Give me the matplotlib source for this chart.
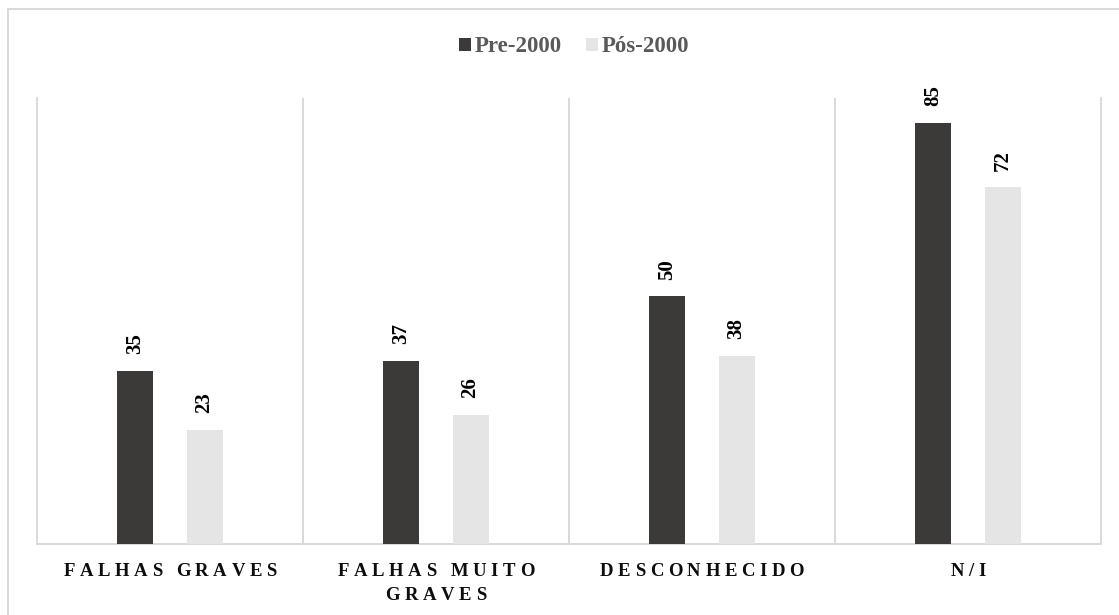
import matplotlib
matplotlib.use("Agg")
import matplotlib.pyplot as plt
from matplotlib.patches import Patch, Rectangle
from matplotlib.font_manager import FontProperties
import numpy as np

categories = [["FALHAS GRAVES"], ["FALHAS MUITO", "GRAVES"], ["DESCONHECIDO"], ["N/I"]]
series_names = ["Pre-2000", "Pós-2000"]
pre_2000 = [35, 37, 50, 85]
pos_2000 = [23, 26, 38, 72]

W, H = 1119, 615
fig = plt.figure(figsize=(W / 100, H / 100), dpi=100)
fig.patch.set_facecolor("white")

serif = ["Liberation Serif", "DejaVu Serif"]
dark = "#3b3a38"
light = "#e5e5e5"
grid = "#d9d9d9"

ax = fig.add_axes([37 / W, 1 - 544 / H, 1064 / W, 446 / H])
x = np.arange(len(pre_2000))
bw = 0.135
off = 0.13
b1 = ax.bar(x - off, pre_2000, bw, color=dark, zorder=3)
b2 = ax.bar(x + off, pos_2000, bw, color=light, zorder=3)

ax.set_xlim(-0.5, len(pre_2000) - 0.5)
ax.set_ylim(0, 90)
ax.set_xticks([])
ax.set_yticks([])
ax.spines["top"].set_visible(False)
for s in ["left", "right", "bottom"]:
    ax.spines[s].set_color(grid)
    ax.spines[s].set_linewidth(1.4)
ax.vlines(np.arange(0.5, len(pre_2000) - 0.5, 1.0), 0, 90, colors=grid, linewidth=1.4, zorder=1)

# value labels above each bar
for bars, vals in ((b1, pre_2000), (b2, pos_2000)):
    for rect, v in zip(bars, vals):
        ax.annotate(str(v), (rect.get_x() + rect.get_width() / 2, v),
                    xytext=(0, 12), textcoords="offset points",
                    rotation=90, ha="center", va="bottom",
                    fontsize=15, fontweight="bold", family=serif, color="black")

# legend
handles = [Patch(facecolor=dark, edgecolor="none"), Patch(facecolor=light, edgecolor="none")]
leg = fig.legend(handles, series_names, loc="center", bbox_to_anchor=(574 / W, 1 - 47 / H),
                 ncol=2, frameon=False, handlelength=0.52, handleheight=0.52,
                 handletextpad=0.15, columnspacing=1.05,
                 prop=FontProperties(family=serif, weight="bold", size=16.5))
for t in leg.get_texts():
    t.set_color("#595959")

# outer frame
fig.patches.append(Rectangle((7.5 / W, -0.1), 1.2, 1.1 - 9.5 / H, transform=fig.transFigure,
                             fill=False, edgecolor=grid, linewidth=1.4))

# letter-spaced category labels
fig.canvas.draw()
renderer = fig.canvas.get_renderer()
label_size = 13.5
fp = FontProperties(family=serif, weight="bold", size=label_size)
tracking = 4.6
space_w = 0.25 * label_size * 100 / 72


def ink_w(s):
    w, h, d = renderer.get_text_width_height_descent(s, fp, ismath=False)
    return w


line_baselines = [576, 600]
for i, lines in enumerate(categories):
    cx = ax.transData.transform((i, 0))[0]
    for li, line in enumerate(lines):
        items = []
        pos = 0.0
        words = line.split(" ")
        for wi, word in enumerate(words):
            for ch in word:
                items.append((pos, ch))
                pos += ink_w(ch) + tracking
            if wi < len(words) - 1:
                pos += space_w + tracking
        total = pos - tracking
        x0 = cx - total / 2
        yb = 1 - line_baselines[li] / H
        for p, ch in items:
            fig.text((x0 + p) / W, yb, ch, ha="left", va="baseline",
                     fontproperties=fp, color="#0d0d0d")

fig.savefig("out.png", dpi=100, facecolor="white")
